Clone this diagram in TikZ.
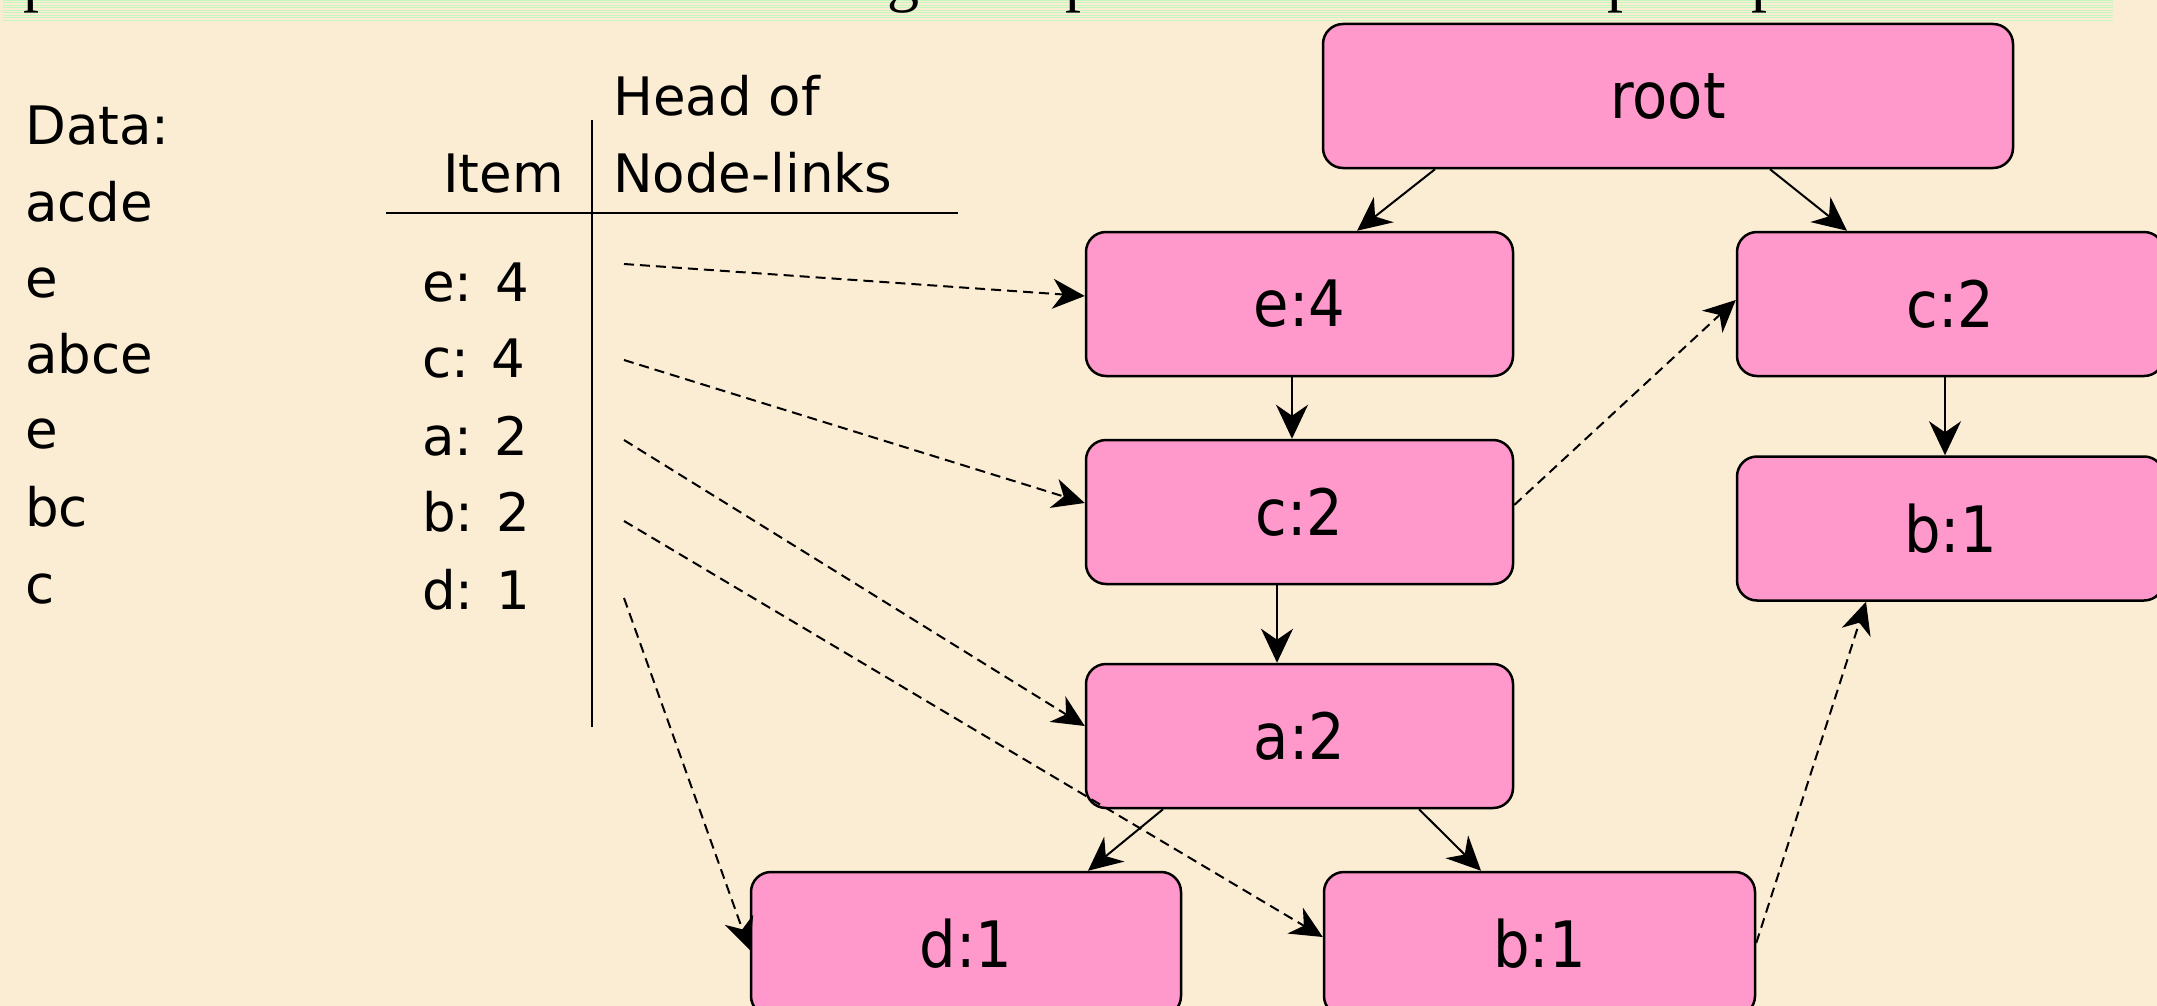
\documentclass[tikz,border=0pt]{standalone}
\usepackage{fontspec}
\setmainfont{DejaVu Sans}
\newfontfamily\condfont{DejaVu Sans Condensed}
\newfontfamily\titleserif{Liberation Serif}
\usetikzlibrary{arrows.meta}
\definecolor{parchment}{RGB}{251,237,212}
\definecolor{nodepink}{RGB}{255,153,204}
\definecolor{bandgreen}{RGB}{196,246,192}

\begin{document}
\begin{tikzpicture}[x=1pt,y=-1pt,
  fpnode/.style={draw=black, line width=2.5pt, fill=nodepink, rounded corners=20pt,
    minimum width=427pt, minimum height=144pt, inner sep=0pt,
    font=\condfont\fontsize{64}{76}\selectfont},
  treearrow/.style={line width=2pt, -{Stealth[length=34pt,width=32pt,inset=11pt]}},
  linkarrow/.style={line width=2pt, dash pattern=on 10pt off 6pt,
    -{Stealth[length=32pt,width=30pt,inset=10pt]}},
  lefttext/.style={anchor=base west, inner sep=0pt, font=\fontsize{53}{64}\selectfont},
  titlefrag/.style={anchor=base west, inner sep=0pt, font=\titleserif\fontsize{64}{70}\selectfont},
]
% page and background
\fill[parchment] (0,0) rectangle (2157,1006);
\useasboundingbox (0,0) rectangle (2157,1006);

% striped title band along the top edge
\foreach \yy in {0.5,3,...,22}
  \draw[bandgreen, line width=1pt] (3,\yy) -- (2113,\yy);
\begin{scope}
  \clip (0,0) rectangle (2157,22);
  \foreach \xx/\ch in {23/p, 887/g, 1065/p, 1607/p, 1751/p}
    \node[titlefrag, name=frag\xx] at (\xx,0) {\ch};
\end{scope}

% transaction data
\node[lefttext] (data0) at (25,145) {Data:};
\node[lefttext] (data1) at (25,221) {acde};
\node[lefttext] (data2) at (25,297) {e};
\node[lefttext] (data3) at (25,373) {abce};
\node[lefttext] (data4) at (25,448) {e};
\node[lefttext] (data5) at (25,526) {bc};
\node[lefttext] (data6) at (25,603) {c};

% header table
\node[lefttext] (headof) at (613,116) {Head of};
\node[lefttext] (nodelinks) at (613,192) {Node-links};
\node[lefttext, anchor=base east] (itemhdr) at (564,192) {Item};
\draw[line width=2.5pt] (592,120) -- (592,727);
\draw[line width=2.5pt] (386,213) -- (958,213);

\node[lefttext] (ie) at (422,301) {e: 4};
\node[lefttext] (ic) at (422,377) {c: 4};
\node[lefttext] (ia) at (422,455) {a: 2};
\node[lefttext] (ib) at (422,531) {b: 2};
\node[lefttext] (id) at (422,609) {d: 1};

\coordinate (le) at (624,264);
\coordinate (lc) at (624,360);
\coordinate (la) at (624,440);
\coordinate (lb) at (624,521);
\coordinate (ld) at (624,598);

% FP-tree
\node[fpnode, minimum width=690pt] (root) at (1668,96) {root};
\node[fpnode] (e4) at (1299.5,304) {e:4};
\node[fpnode] (c2) at (1299.5,512) {c:2};
\node[fpnode] (a2) at (1299.5,736) {a:2};
\node[fpnode, minimum width=430pt] (d1) at (966,944) {d:1};
\node[fpnode, minimum width=431pt] (b1) at (1539.5,944) {b:1};
\node[fpnode] (c2r) at (1950.5,304) {c:2};
\node[fpnode] (b1r) at (1950.5,528.5) {b:1};

% parent-child edges
\draw[treearrow] ([xshift=-233pt]root.south) -- ([xshift=57.5pt]e4.north);
\draw[treearrow] ([xshift=102pt]root.south) -- ([xshift=-103.5pt]c2r.north);
\draw[treearrow] ([xshift=-7.5pt]e4.south) -- ([xshift=-7.5pt]c2.north);
\draw[treearrow] ([xshift=-22.5pt]c2.south) -- ([xshift=-22.5pt]a2.north);
\draw[treearrow] ([xshift=-136.5pt]a2.south) -- ([xshift=122pt]d1.north);
\draw[treearrow] ([xshift=119.5pt]a2.south) -- ([xshift=-58.5pt]b1.north);
\draw[treearrow] ([xshift=-5.5pt]c2r.south) -- ([xshift=-5.5pt]b1r.north);

% node-links
\draw[linkarrow] (le) -- ([yshift=8pt]e4.west);
\draw[linkarrow] (lc) -- ([yshift=9pt]c2.west);
\draw[linkarrow] (la) -- ([yshift=10pt]a2.west);
\draw[linkarrow] (lb) -- ([yshift=7pt]b1.west);
\draw[linkarrow] (ld) -- ([yshift=-6pt]d1.west);
\draw[linkarrow] ([yshift=7pt]c2.east) -- ([yshift=4pt]c2r.west);
\draw[linkarrow] ([yshift=1pt]b1.east) -- ([xshift=-84.5pt]b1r.south);
\end{tikzpicture}
\end{document}
